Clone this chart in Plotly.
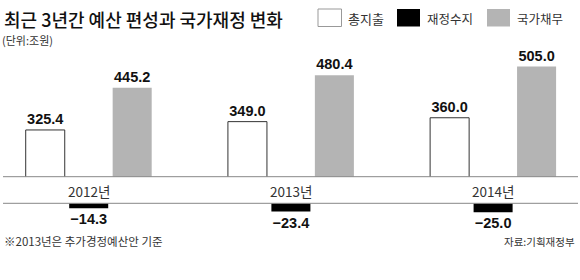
import plotly.graph_objects as go

W, H = 580, 280

years = ["2012년", "2013년", "2014년"]
spending = [325.4, 349.0, 360.0]      # 총지출
balance = [-14.3, -23.4, -25.0]       # 재정수지
debt = [445.2, 480.4, 505.0]          # 국가채무

def px(x):
    return x / W

def py(y):
    return 1 - y / H

xs = [0, 1, 2]
bw = 0.193
KFONT = "Noto Sans CJK KR"
NFONT = "Liberation Sans"

fig = go.Figure()

fig.add_trace(go.Bar(
    x=xs, y=spending, width=bw, offset=-0.215 - bw / 2,
    marker=dict(color="white", line=dict(color="#333333", width=1)),
    text=[f"{v:.1f}" for v in spending], textposition="outside",
    textfont=dict(family=NFONT, size=14.5, color="#111111", weight="bold"),
    constraintext="none", cliponaxis=False, xaxis="x", yaxis="y",
    showlegend=False, name="총지출",
))
fig.add_trace(go.Bar(
    x=xs, y=debt, width=bw, offset=0.215 - bw / 2,
    marker=dict(color="#b4b4b4", line=dict(width=0)),
    text=[f"{v:.1f}" for v in debt], textposition="outside",
    textfont=dict(family=NFONT, size=14.5, color="#111111", weight="bold"),
    constraintext="none", cliponaxis=False, xaxis="x", yaxis="y",
    showlegend=False, name="국가채무",
))
fig.add_trace(go.Bar(
    x=xs, y=balance, width=bw, offset=-bw / 2,
    marker=dict(color="#000000", line=dict(width=0)),
    text=[f"\u2212{abs(v):.1f}" for v in balance], textposition="outside",
    textfont=dict(family=NFONT, size=14.5, color="#111111", weight="bold"),
    constraintext="none", cliponaxis=False, xaxis="x2", yaxis="y2",
    showlegend=False, name="재정수지",
))

xr = [-88.7 / 202.2, (W - 88.7) / 202.2]
scale = 0.353  # px per unit
top_base, top_top = 176.7, 60
bot_base, bot_bot = 203.3, 234

year_annotations = [
    dict(text=t, xref="x", yref="paper", x=i, y=py(191),
         xanchor="center", yanchor="middle", showarrow=False,
         font=dict(family=KFONT, size=13.5, color="#333333"))
    for i, t in zip(xs, years)
]

fig.update_layout(
    width=W, height=H, margin=dict(l=0, r=0, t=0, b=0),
    paper_bgcolor="white", plot_bgcolor="white",
    barmode="overlay",
    xaxis=dict(domain=[0, 1], range=xr, anchor="y",
               showgrid=False, zeroline=False, showline=False, ticks="",
               showticklabels=False),
    xaxis2=dict(domain=[0, 1], range=xr, anchor="y2", matches="x",
                showgrid=False, zeroline=False, showline=False, showticklabels=False),
    yaxis=dict(domain=[py(top_base), py(top_top)],
               range=[193, 193 + (top_base - top_top) / scale],
               showgrid=False, zeroline=False, showticklabels=False),
    yaxis2=dict(domain=[py(bot_bot), py(bot_base)],
                range=[-(bot_bot - bot_base) / scale, 0],
                showgrid=False, zeroline=False, showticklabels=False),
    shapes=[
        dict(type="line", xref="paper", yref="paper", x0=px(3), x1=px(578),
             y0=py(top_base), y1=py(top_base), line=dict(color="#888888", width=1)),
        dict(type="line", xref="paper", yref="paper", x0=px(3), x1=px(578),
             y0=py(bot_base), y1=py(bot_base), line=dict(color="#888888", width=1)),
        # legend swatches
        dict(type="rect", xref="paper", yref="paper", x0=px(318), x1=px(341.5),
             y0=py(26.5), y1=py(9), fillcolor="white", line=dict(color="#999999", width=1)),
        dict(type="rect", xref="paper", yref="paper", x0=px(397), x1=px(420),
             y0=py(26.5), y1=py(9), fillcolor="#000000", line=dict(width=0)),
        dict(type="rect", xref="paper", yref="paper", x0=px(487), x1=px(510),
             y0=py(26.5), y1=py(9), fillcolor="#b4b4b4", line=dict(width=0)),
    ],
    annotations=year_annotations + [
        dict(text="최근 3년간 예산 편성과 국가재정 변화", xref="paper", yref="paper",
             x=px(2), y=py(19), xanchor="left", yanchor="middle", showarrow=False,
             font=dict(family=KFONT, size=18, color="#111111", weight=500)),
        dict(text="(단위:조원)", xref="paper", yref="paper",
             x=px(0), y=py(40), xanchor="left", yanchor="middle", showarrow=False,
             font=dict(family=KFONT, size=11, color="#333333")),
        dict(text="총지출", xref="paper", yref="paper",
             x=px(346), y=py(18), xanchor="left", yanchor="middle", showarrow=False,
             font=dict(family=KFONT, size=13, color="#333333")),
        dict(text="재정수지", xref="paper", yref="paper",
             x=px(425), y=py(18), xanchor="left", yanchor="middle", showarrow=False,
             font=dict(family=KFONT, size=12.5, color="#333333")),
        dict(text="국가채무", xref="paper", yref="paper",
             x=px(515), y=py(18), xanchor="left", yanchor="middle", showarrow=False,
             font=dict(family=KFONT, size=12.5, color="#333333")),
        dict(text="※2013년은 추가경정예산안 기준", xref="paper", yref="paper",
             x=px(2), y=py(241), xanchor="left", yanchor="middle", showarrow=False,
             font=dict(family=KFONT, size=11.5, color="#333333")),
        dict(text="자료:기획재정부", xref="paper", yref="paper",
             x=px(577), y=py(241), xanchor="right", yanchor="middle", showarrow=False,
             font=dict(family=KFONT, size=10.5, color="#333333")),
    ],
)

fig.write_html("out.html")
